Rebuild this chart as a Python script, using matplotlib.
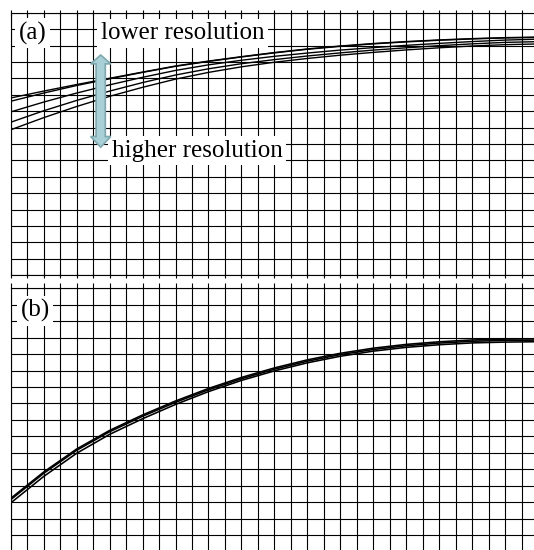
import matplotlib
matplotlib.use("Agg")
import matplotlib.pyplot as plt
from matplotlib.patches import Polygon

# ---------------- data (grid units; y measured downward from the top grid line) -------------
x_pts = [0, 2, 4, 6, 8, 10, 12, 14, 16, 18, 20, 22, 24, 26, 28, 30, 31.75]

# panel (a): five resolutions
a_res1 = [5.20, 4.78, 4.38, 4.00, 3.62, 3.25, 2.95, 2.68, 2.43, 2.21, 2.03, 1.88, 1.76, 1.66, 1.58, 1.52, 1.49]
a_res2 = [5.40, 4.90, 4.44, 4.03, 3.64, 3.27, 2.97, 2.70, 2.45, 2.23, 2.05, 1.90, 1.78, 1.68, 1.60, 1.54, 1.51]
a_res3 = [6.05, 5.45, 4.90, 4.40, 3.94, 3.52, 3.18, 2.90, 2.66, 2.46, 2.28, 2.13, 1.99, 1.87, 1.76, 1.67, 1.62]
a_res4 = [6.68, 5.98, 5.35, 4.78, 4.26, 3.80, 3.42, 3.11, 2.86, 2.64, 2.45, 2.28, 2.14, 2.01, 1.90, 1.81, 1.77]
a_res5 = [7.14, 6.40, 5.72, 5.10, 4.55, 4.05, 3.64, 3.30, 3.02, 2.79, 2.59, 2.42, 2.27, 2.14, 2.03, 1.95, 1.91]

# panel (b): converged curves
b_res1 = [12.77, 11.17, 9.77, 8.64, 7.70, 6.85, 6.09, 5.42, 4.84, 4.35, 3.95, 3.64, 3.41, 3.25, 3.14, 3.09, 3.07]
b_res2 = [12.85, 11.25, 9.85, 8.72, 7.78, 6.93, 6.17, 5.50, 4.92, 4.43, 4.03, 3.72, 3.49, 3.33, 3.22, 3.17, 3.15]
b_res3 = [13.05, 11.44, 10.03, 8.88, 7.93, 7.06, 6.28, 5.60, 5.02, 4.53, 4.13, 3.82, 3.59, 3.43, 3.32, 3.27, 3.25]

label_a = "(a)"
label_b = "(b)"
label_low = "lower resolution"
label_high = "higher resolution"

# ---------------- figure ----------------
W, H = 534, 550
fig = plt.figure(figsize=(W / 100, H / 100), dpi=100)
fig.patch.set_facecolor("white")

x_max = 31.75
n_rows = 16
ax_a = fig.add_axes([10.7 / W, (H - 275.1) / H, (W - 10.7) / W, 262.4 / H])
ax_b = fig.add_axes([10.7 / W, (H - 551.5) / H, (W - 10.7) / W, 263.2 / H])

grid_lw = 0.8
for ax in (ax_a, ax_b):
    ax.set_xlim(0, x_max)
    ax.set_ylim(n_rows, 0)
    ax.set_xticks(range(0, 32))
    ax.set_yticks(range(0, n_rows + 1))
    ax.grid(True, color="black", lw=grid_lw)
    ax.spines["right"].set_visible(False)
    for s in ("top", "left", "bottom"):
        ax.spines[s].set_linewidth(grid_lw)
        ax.spines[s].set_color("black")
    ax.tick_params(axis="y", left=False, labelleft=False)
    ax.set_facecolor("white")

ax_a.tick_params(axis="x", top=True, bottom=True, labelbottom=False, labeltop=False,
                 direction="inout", length=4.5, width=grid_lw, color="black")
ax_b.tick_params(axis="x", top=True, bottom=False, labelbottom=False, labeltop=False,
                 direction="out", length=3.6, width=grid_lw, color="black")

for ys in (a_res1, a_res2, a_res3, a_res4, a_res5):
    ax_a.plot(x_pts, ys, color="black", lw=1.0, zorder=2.6)

for ys in (b_res1, b_res2, b_res3):
    ax_b.plot(x_pts, ys, color="black", lw=1.15, zorder=2.6)

serif = ["Liberation Serif", "DejaVu Serif"]
box = dict(facecolor="white", edgecolor="none", pad=2.5)
ax_a.text(0.50, 1.62, label_a, fontsize=18, family=serif, ha="left", va="baseline", bbox=box, zorder=3)
ax_a.text(5.45, 1.62, label_low, fontsize=18, family=serif, ha="left", va="baseline", bbox=box, zorder=3)
ax_a.text(6.13, 8.78, label_high, fontsize=18, family=serif, ha="left", va="baseline", bbox=box, zorder=3)
ax_b.text(0.60, 1.73, label_b, fontsize=18, family=serif, ha="left", va="baseline", bbox=box, zorder=3)

# double-headed fat arrow
cx, hw, sw = 5.46, 0.61, 0.28
tip_top, base_top, base_bot, tip_bot = 2.58, 3.12, 7.55, 8.20
arrow_pts = [(cx, tip_top), (cx + hw, base_top), (cx + sw, base_top), (cx + sw, base_bot),
             (cx + hw, base_bot), (cx, tip_bot), (cx - hw, base_bot), (cx - sw, base_bot),
             (cx - sw, base_top), (cx - hw, base_top)]
ax_a.add_patch(Polygon(arrow_pts, closed=True, facecolor="#a9d0d6", edgecolor="#7ea7ae",
                       lw=1.2, zorder=4))

fig.savefig("out.png", dpi=100, facecolor="white")
